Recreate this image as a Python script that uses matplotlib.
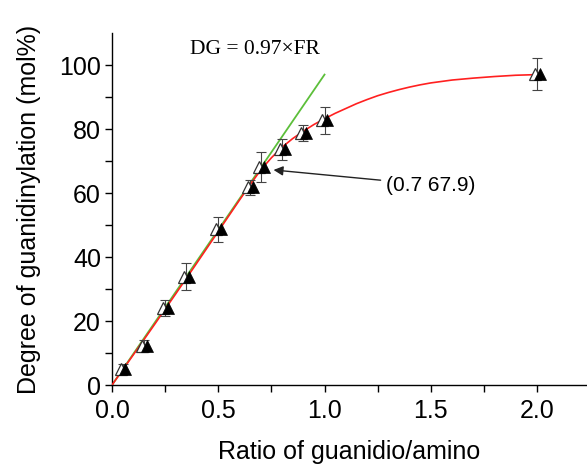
import matplotlib
matplotlib.use("Agg")
import matplotlib.pyplot as plt
import matplotlib.transforms as mtransforms

plt.rcParams['font.family'] = ['Liberation Sans', 'DejaVu Sans']

# Data
ratio = [0.05, 0.15, 0.25, 0.35, 0.5, 0.65, 0.7, 0.8, 0.9, 1.0, 2.0]
dg = [5.0, 12.2, 24.0, 33.9, 48.7, 61.8, 68.2, 73.6, 78.7, 82.7, 97.3]
dg_err = [1.5, 2.0, 2.5, 4.3, 3.9, 2.4, 4.7, 3.2, 2.6, 4.3, 5.0]

# fitted (red) curve
fit_x = [0.0, 0.1, 0.2, 0.3, 0.4, 0.5, 0.6, 0.65, 0.7, 0.75, 0.8, 0.85, 0.9,
         0.95, 1.0, 1.05, 1.1, 1.15, 1.2, 1.25, 1.3, 1.35, 1.4, 1.45, 1.5,
         1.6, 1.7, 1.8, 1.9, 2.0]
fit_y = [0.0, 9.4, 18.9, 28.5, 38.2, 48.0, 57.8, 62.6, 67.2, 71.0, 74.3, 77.0,
         79.3, 81.4, 83.2, 84.9, 86.4, 87.9, 89.2, 90.4, 91.4, 92.3, 93.1, 93.8,
         94.4, 95.3, 95.9, 96.4, 96.8, 97.0]

# linear relation DG = 0.97 x FR (in %)
lin_x = [0.0, 1.0]
lin_y = [0.0, 97.0]

xticks = [0.0, 0.5, 1.0, 1.5, 2.0]
yticks = [0, 20, 40, 60, 80, 100]

fig = plt.figure(figsize=(5.87, 4.65), dpi=100)
ax = fig.add_axes([112/587, (465-385)/465, (587-112)/587, (385-33)/465])

ax.plot(lin_x, lin_y, color='#5cbf3a', lw=1.3, zorder=2)
ax.plot(fit_x, fit_y, color='#ff2020', lw=1.2, zorder=3,
        solid_joinstyle='round')

ax.errorbar(ratio, dg, yerr=dg_err, fmt='none', ecolor='#444444',
            elinewidth=0.8, capsize=3.5, capthick=0.8, zorder=4)

tr_open = mtransforms.offset_copy(ax.transData, fig=fig, x=-1.5, y=0, units='points')
tr_fill = mtransforms.offset_copy(ax.transData, fig=fig, x=2.0, y=0, units='points')
ax.plot(ratio, dg, linestyle='none', marker='^', markersize=9,
        markerfacecolor='white', markeredgecolor='#333333', markeredgewidth=0.9,
        transform=tr_open, zorder=5)
ax.plot(ratio, dg, linestyle='none', marker='^', markersize=8.5,
        markerfacecolor='black', markeredgecolor='black', markeredgewidth=0.5,
        transform=tr_fill, zorder=6)

ax.text(0.367, 104.7, 'DG = 0.97×FR', fontsize=15.5, va='center', ha='left',
        family=['Liberation Serif', 'DejaVu Serif'])

ax.annotate('(0.7 67.9)', xy=(0.76, 67.2), xytext=(1.29, 62.5),
            fontsize=15, ha='left', va='center',
            arrowprops=dict(arrowstyle='-|>', color='#222222', lw=1.0,
                            mutation_scale=14, shrinkA=2, shrinkB=0))

ax.set_xlim(0, 2.235)
ax.set_ylim(0, 110)
ax.set_xticks(xticks)
ax.set_xticklabels([f'{t:.1f}' for t in xticks])
ax.set_yticks(yticks)
ax.set_xticks([0.25, 0.75, 1.25, 1.75], minor=True)
ax.set_yticks([10, 30, 50, 70, 90], minor=True)
ax.tick_params(axis='both', which='both', direction='out', length=5, width=1,
               labelsize=18, pad=3)
ax.tick_params(axis='x', which='both', pad=5)

for s in ['top', 'right']:
    ax.spines[s].set_visible(False)
for s in ['left', 'bottom']:
    ax.spines[s].set_linewidth(1.0)

ax.set_xlabel('Ratio of guanidio/amino', fontsize=18, labelpad=12)
ax.set_ylabel('Degree of guanidinylation (mol%)', fontsize=18, labelpad=13)

fig.savefig('out.png', dpi=100)
